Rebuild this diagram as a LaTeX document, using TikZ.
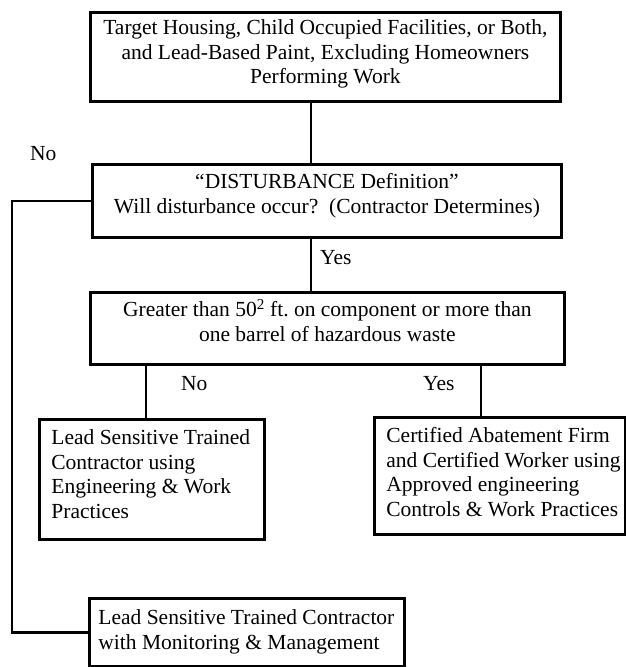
\documentclass[tikz,border=0pt]{standalone}
\usepackage{fontspec}
\setmainfont{Liberation Serif}
\newcommand\flowtext[4]{\parbox[t][#2][t]{#1}{\vspace*{#3}#4}}
\tikzset{
  flowbox/.style={draw, rectangle, line width=2.8pt, inner sep=0pt, anchor=north west},
  conn/.style={line width=2.8pt},
  lbl/.style={anchor=base west, inner sep=0pt},
}
\begin{document}
\begin{tikzpicture}[x=1pt, y=-1pt, font=\fontsize{21.5pt}{24.7pt}\selectfont\frenchspacing]
\useasboundingbox (0,0) rectangle (626,667);
% boxes
\node[flowbox] (top) at (89,11) {\flowtext{470pt}{89pt}{4.7pt}{\centering\strut Target Housing, Child Occupied Facilities, or Both,\\ and Lead-Based Paint, Excluding Homeowners\\ Performing Work}};
\node[flowbox] (dist) at (91,163) {\flowtext{469pt}{73pt}{6.7pt}{\centering\strut “DISTURBANCE Definition”\\ Will disturbance occur?\ \ (Contractor Determines)}};
\node[flowbox] (great) at (89,291) {\flowtext{474pt}{72pt}{6.7pt}{\centering\strut Greater than 50\textsuperscript{2} ft. on component or more than\\ one barrel of hazardous waste}};
\node[flowbox] (lst) at (38,418) {\flowtext{225pt}{120pt}{7.7pt}{\raggedright\leftskip=12pt\strut\mbox{Lead Sensitive Trained}\\ \mbox{Contractor using}\\ \mbox{Engineering \& Work}\\ \mbox{Practices}}};
\node[flowbox] (caf) at (373,416) {\flowtext{251pt}{117pt}{7.7pt}{\raggedright\leftskip=12pt\strut\mbox{Certified Abatement Firm}\\ \mbox{and Certified Worker using}\\ \mbox{Approved engineering}\\ \mbox{Controls \& Work Practices}}};
\node[flowbox] (mon) at (88,597) {\flowtext{315pt}{68pt}{8.7pt}{\raggedright\leftskip=9pt\strut\mbox{Lead Sensitive Trained Contractor}\\ \mbox{with Monitoring \& Management}}};
% connector x positions
\coordinate (cx) at (311,0);
\coordinate (cl) at (146,0);
\coordinate (cr) at (481,0);
\coordinate (lx) at (12,0);
% connectors
\draw[conn] (top.south -| cx) -- (dist.north -| cx);
\draw[conn] (dist.south -| cx) -- (great.north -| cx);
\draw[conn] (great.south -| cl) -- (lst.north -| cl);
\draw[conn] (great.south -| cr) -- (caf.north -| cr);
\draw[conn] (dist.west) -| (lx |- mon.west) -- (mon.west);
% labels
\node[lbl] (no1) at (30,160) {No};
\node[lbl] (yes1) at (320,264) {Yes};
\node[lbl] (no2) at (181,390) {No};
\node[lbl] (yes2) at (423,390) {Yes};
\end{tikzpicture}
\end{document}
